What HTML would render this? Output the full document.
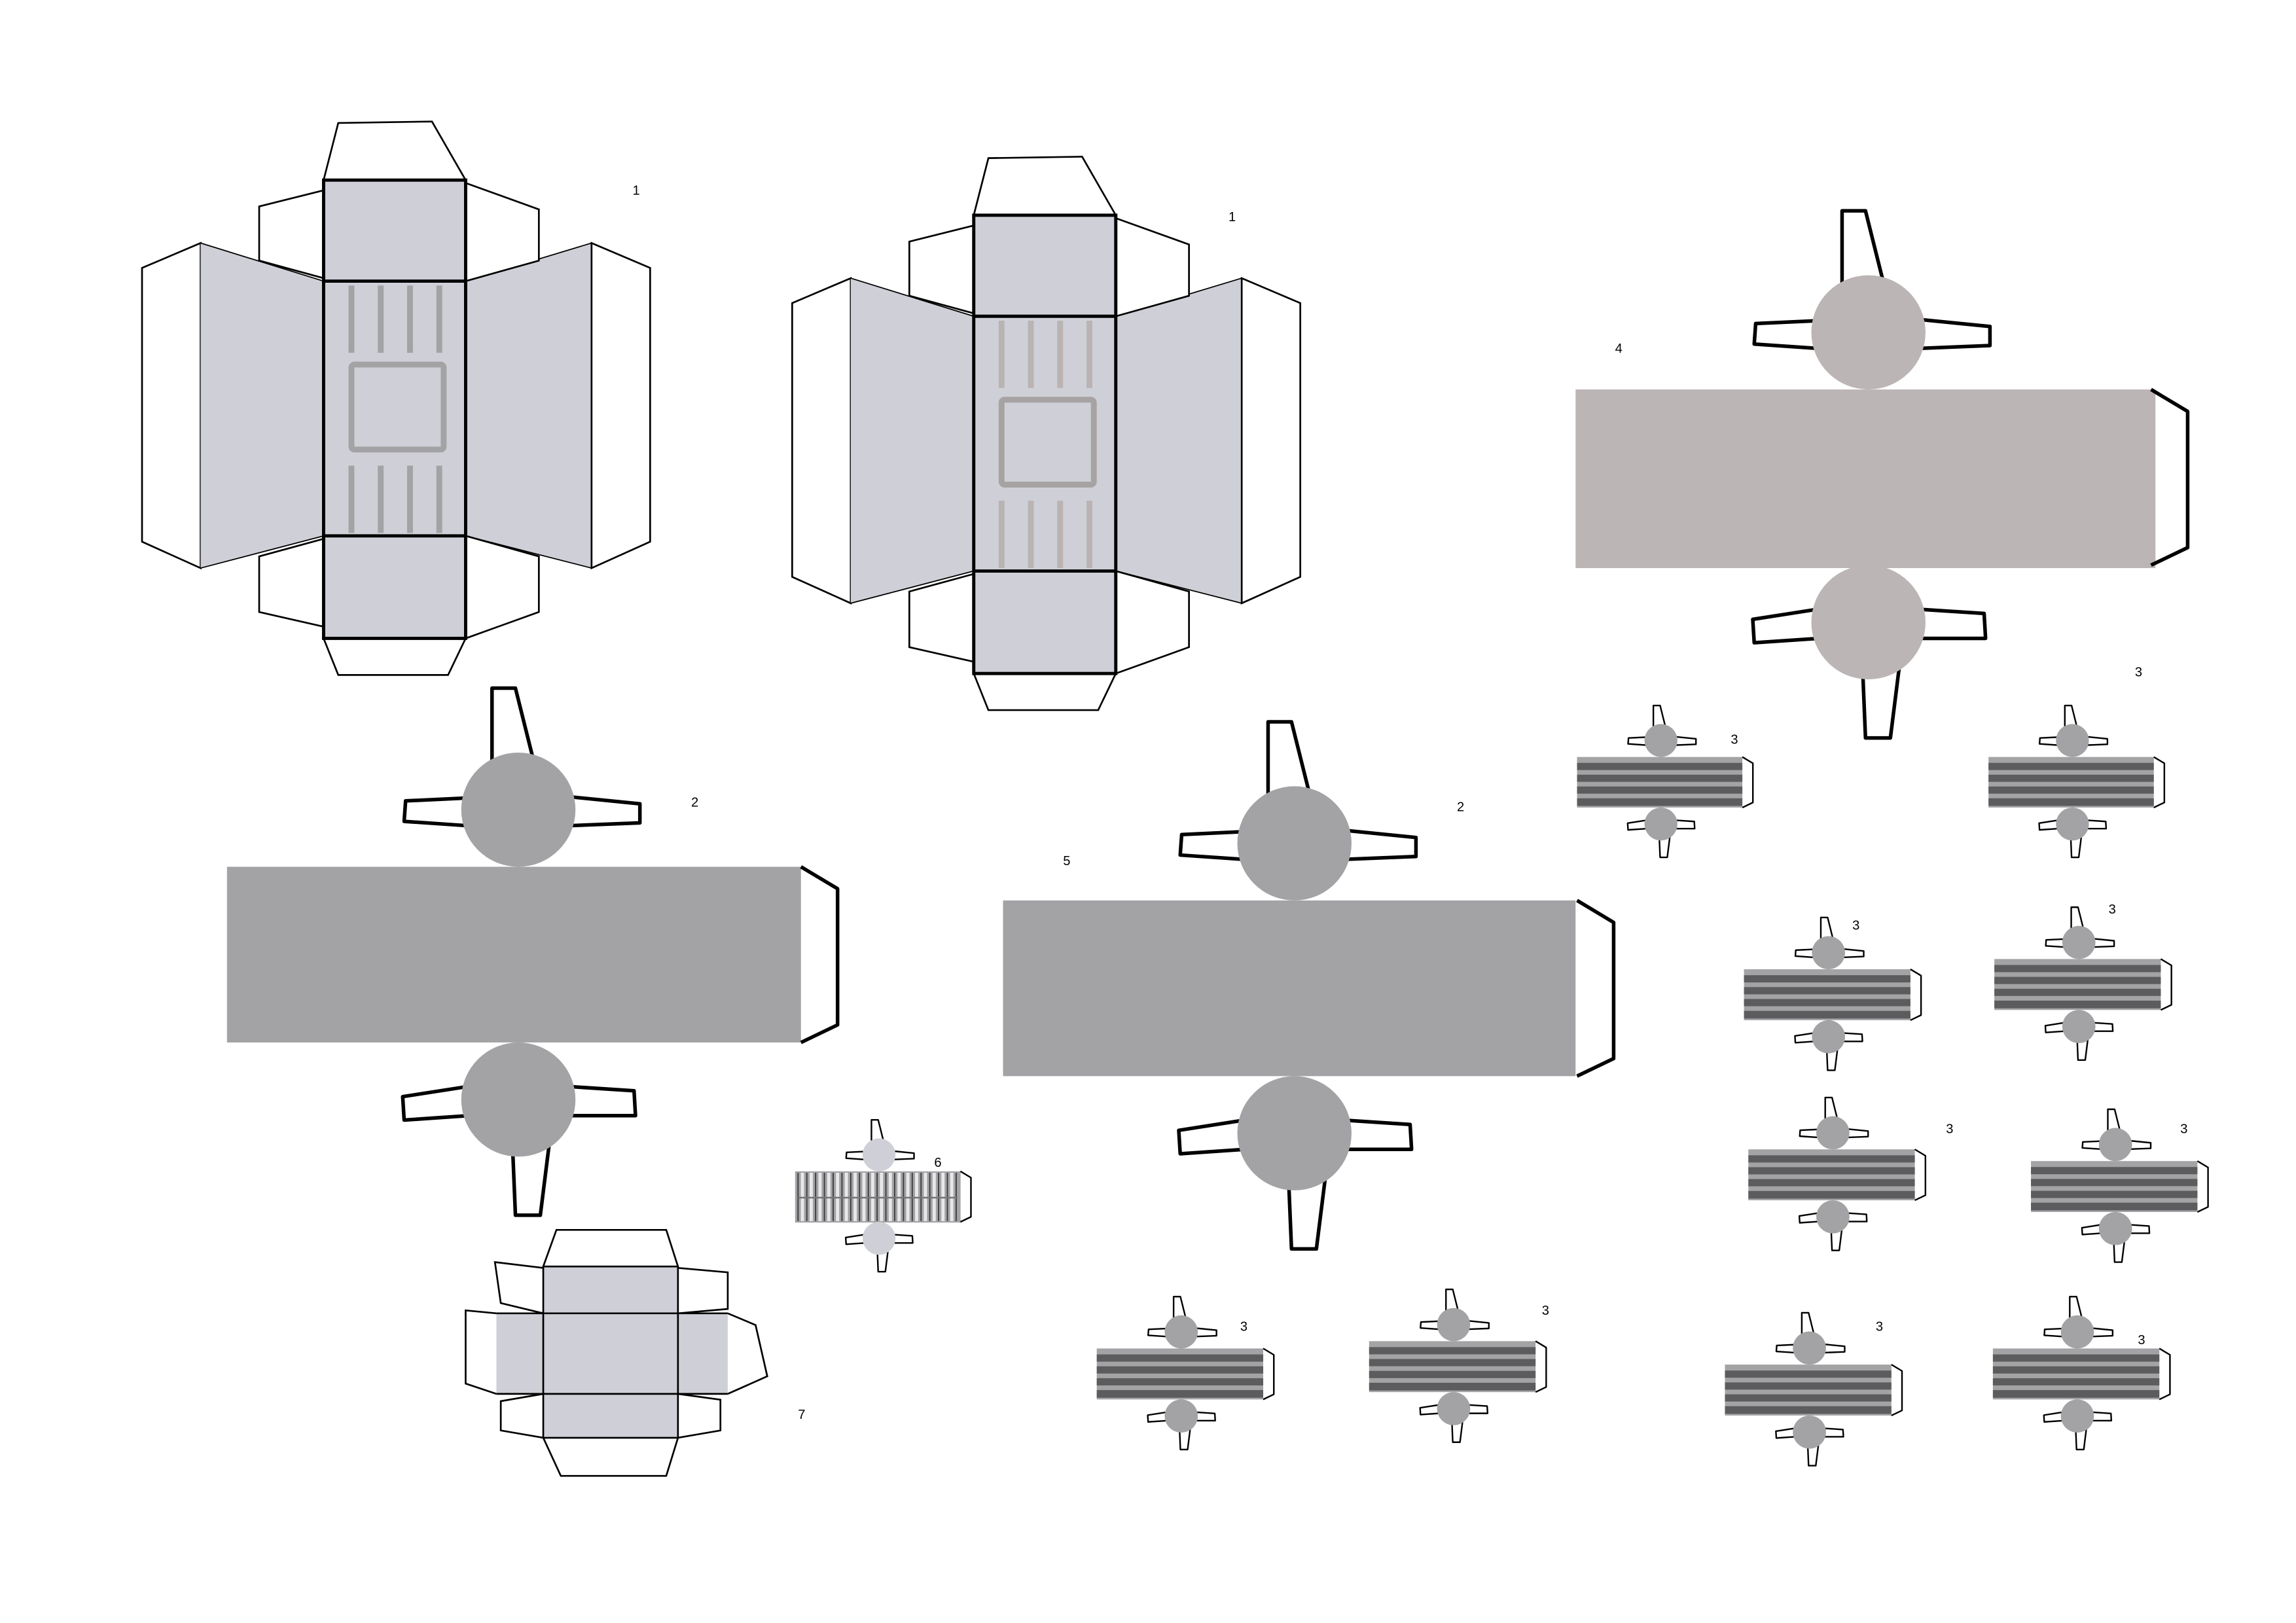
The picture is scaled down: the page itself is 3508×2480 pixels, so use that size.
<!DOCTYPE html>
<html><head><meta charset="utf-8"><style>
html,body{margin:0;padding:0;background:#fff;}
svg{display:block}
text{font-family:"Liberation Sans",sans-serif;font-size:9px;fill:#000}
</style></head><body>
<svg width="3508" height="2480" viewBox="0 0 1568 1108.5" preserveAspectRatio="none" xmlns="http://www.w3.org/2000/svg">
<defs>
<g id="chairs" stroke="#000" stroke-linejoin="round">
  <g fill="#fff">
    <polygon vector-effect="non-scaling-stroke" points="165,-47 122,-45 121,-31 165,-28"/>
    <polygon vector-effect="non-scaling-stroke" points="232,-48 282,-43 282,-30 232,-28"/>
    <polygon vector-effect="non-scaling-stroke" points="181,-70 181,-122 197,-122 210,-70"/>
    <polygon vector-effect="non-scaling-stroke" points="165,150 120,157 121,173 165,170"/>
    <polygon vector-effect="non-scaling-stroke" points="232,150 278,153 279,170 232,170"/>
    <polygon vector-effect="non-scaling-stroke" points="195,190 220,190 214,238 197,238"/>
  </g>
  <circle cx="199" cy="-39" r="39" fill="currentColor" stroke="none"/>
  <circle cx="199" cy="159" r="39" fill="currentColor" stroke="none"/>
  <polyline vector-effect="non-scaling-stroke" fill="none" points="392,0 417,15 417,108 392,120"/>
</g>
<g id="striped">
  <rect x="0" y="0" width="392" height="120" fill="#a3a3a6"/>
  <rect x="0" y="14" width="392" height="17" fill="#5c5c5e"/>
  <rect x="0" y="42" width="392" height="17" fill="#5c5c5e"/>
  <rect x="0" y="70" width="392" height="17" fill="#5c5c5e"/>
  <rect x="0" y="98" width="392" height="18" fill="#5c5c5e"/>
  <use href="#chairs" color="#a3a3a6"/>
</g>
<g id="net1">
  <polygon points="137,166 97,183 97,370 137,388" fill="#fff" stroke="#000" stroke-width="1.2"/>
  <polygon points="137,166 221,192 221,366 137,388" fill="#cfd0d7"/>
  <polygon points="404,166 318,192 318,366 404,388" fill="#cfd0d7"/>
  <polygon points="404,166 444,183 444,370 404,388" fill="#fff" stroke="#000" stroke-width="1.2"/>
  <line x1="137" y1="166" x2="221" y2="192" stroke="#000" stroke-width="0.8"/>
  <line x1="137" y1="388" x2="221" y2="366" stroke="#000" stroke-width="0.8"/>
  <line x1="404" y1="166" x2="318" y2="192" stroke="#000" stroke-width="0.8"/>
  <line x1="404" y1="388" x2="318" y2="366" stroke="#000" stroke-width="0.8"/>
  <polyline points="221,130 177,141 177,178 221,190" fill="#fff" stroke="#000" stroke-width="1.2"/>
  <polyline points="318,125 368,143 368,178 318,192" fill="#fff" stroke="#000" stroke-width="1.2"/>
  <polyline points="221,368 177,380 177,418 221,428" fill="#fff" stroke="#000" stroke-width="1.2"/>
  <polyline points="318,366 368,380 368,418 318,436" fill="#fff" stroke="#000" stroke-width="1.2"/>
  <polyline points="221,123 231,84 295,83 318,123" fill="#fff" stroke="#000" stroke-width="1.2"/>
  <polyline points="221,436 231,461 306,461 318,436" fill="#fff" stroke="#000" stroke-width="1.2"/>
  <rect x="221" y="123" width="97" height="313" fill="#cfd0d7" stroke="#000" stroke-width="2.2"/>
  <line x1="221" y1="192" x2="318" y2="192" stroke="#000" stroke-width="2.2"/>
  <line x1="221" y1="366" x2="318" y2="366" stroke="#000" stroke-width="2.2"/>
</g>
</defs>

<use href="#net1"/>
<g stroke="#a3a3a6" stroke-width="4" fill="none">
  <line x1="240" y1="195" x2="240" y2="241"/><line x1="260" y1="195" x2="260" y2="241"/>
  <line x1="280" y1="195" x2="280" y2="241"/><line x1="300" y1="195" x2="300" y2="241"/>
  <line x1="240" y1="318" x2="240" y2="364"/><line x1="260" y1="318" x2="260" y2="364"/>
  <line x1="280" y1="318" x2="280" y2="364"/><line x1="300" y1="318" x2="300" y2="364"/>
  <rect x="240" y="249" width="63" height="58" rx="2"/>
</g>

<g transform="translate(444,24)">
  <use href="#net1"/>
  <g stroke="#b9b3b3" stroke-width="4" fill="none">
    <line x1="240" y1="195" x2="240" y2="241"/><line x1="260" y1="195" x2="260" y2="241"/>
    <line x1="280" y1="195" x2="280" y2="241"/><line x1="300" y1="195" x2="300" y2="241"/>
    <line x1="240" y1="318" x2="240" y2="364"/><line x1="260" y1="318" x2="260" y2="364"/>
    <line x1="280" y1="318" x2="280" y2="364"/><line x1="300" y1="318" x2="300" y2="364"/>
    <rect x="240" y="249" width="63" height="58" rx="2" stroke="#a8a3a3"/>
  </g>
</g>

<rect x="155" y="592" width="392" height="120" fill="#a3a3a6"/>
<use href="#chairs" transform="translate(155,592)" color="#a3a3a6" stroke-width="5.5"/>
<rect x="685" y="615" width="391" height="120" fill="#a3a3a6"/>
<use href="#chairs" transform="translate(685,615)" color="#a3a3a6" stroke-width="5.5"/>
<rect x="1076" y="266" width="396" height="122" fill="#bcb5b5"/>
<use href="#chairs" transform="translate(1077,266)" color="#bcb5b5" stroke-width="5.5"/>

<g stroke-width="2.4">
<use href="#striped" transform="translate(1077,517) scale(0.288)"/>
<use href="#striped" transform="translate(1358,517) scale(0.288)"/>
<use href="#striped" transform="translate(1191,662) scale(0.29)"/>
<use href="#striped" transform="translate(1362,655) scale(0.29)"/>
<use href="#striped" transform="translate(1194,785) scale(0.29)"/>
<use href="#striped" transform="translate(1387,793) scale(0.29)"/>
<use href="#striped" transform="translate(749,921) scale(0.29)"/>
<use href="#striped" transform="translate(935,916) scale(0.29)"/>
<use href="#striped" transform="translate(1178,932) scale(0.29)"/>
<use href="#striped" transform="translate(1361,921) scale(0.29)"/>
</g>

<rect x="543" y="800" width="113" height="35" fill="#a3a3a6"/>
<g stroke="#e8e8ea" stroke-width="2.2">
  <line x1="548" y1="801" x2="548" y2="834"/><line x1="554" y1="801" x2="554" y2="834"/>
  <line x1="560" y1="801" x2="560" y2="834"/><line x1="566" y1="801" x2="566" y2="834"/>
  <line x1="572" y1="801" x2="572" y2="834"/><line x1="578" y1="801" x2="578" y2="834"/>
  <line x1="584" y1="801" x2="584" y2="834"/><line x1="590" y1="801" x2="590" y2="834"/>
  <line x1="596" y1="801" x2="596" y2="834"/><line x1="602" y1="801" x2="602" y2="834"/>
  <line x1="608" y1="801" x2="608" y2="834"/><line x1="614" y1="801" x2="614" y2="834"/>
  <line x1="620" y1="801" x2="620" y2="834"/><line x1="626" y1="801" x2="626" y2="834"/>
  <line x1="632" y1="801" x2="632" y2="834"/><line x1="638" y1="801" x2="638" y2="834"/>
  <line x1="644" y1="801" x2="644" y2="834"/><line x1="650" y1="801" x2="650" y2="834"/>
</g>
<g stroke="#3a3a3c" stroke-width="0.8">
  <line x1="545" y1="801" x2="545" y2="834"/><line x1="551" y1="801" x2="551" y2="834"/>
  <line x1="557" y1="801" x2="557" y2="834"/><line x1="563" y1="801" x2="563" y2="834"/>
  <line x1="569" y1="801" x2="569" y2="834"/><line x1="575" y1="801" x2="575" y2="834"/>
  <line x1="581" y1="801" x2="581" y2="834"/><line x1="587" y1="801" x2="587" y2="834"/>
  <line x1="593" y1="801" x2="593" y2="834"/><line x1="599" y1="801" x2="599" y2="834"/>
  <line x1="605" y1="801" x2="605" y2="834"/><line x1="611" y1="801" x2="611" y2="834"/>
  <line x1="617" y1="801" x2="617" y2="834"/><line x1="623" y1="801" x2="623" y2="834"/>
  <line x1="629" y1="801" x2="629" y2="834"/><line x1="635" y1="801" x2="635" y2="834"/>
  <line x1="641" y1="801" x2="641" y2="834"/><line x1="647" y1="801" x2="647" y2="834"/>
  <line x1="653" y1="801" x2="653" y2="834"/>
</g>
<line x1="545" y1="818" x2="654" y2="818" stroke="#777" stroke-width="1.2"/>
<use href="#chairs" transform="translate(543,800) scale(0.288)" color="#cfd0d7" stroke-width="2.4"/>

<g stroke="#000" stroke-width="1.2" fill="#fff">
  <polyline points="371,866 338,862 342,890 371,897"/>
  <polyline points="463,866 497,869 497,894 463,897"/>
  <polyline points="371,952 342,957 342,977 371,982"/>
  <polyline points="463,952 492,956 492,977 463,982"/>
  <polyline points="339,897 318,895 318,945 339,952"/>
  <polyline points="497,897 516,905 524,940 497,952"/>
  <polyline points="371,865 380,840 455,840 463,865"/>
  <polyline points="371,982 383,1008 455,1008 463,982"/>
</g>
<rect x="339" y="897" width="158" height="55" fill="#cfd0d7"/>
<rect x="371" y="865" width="92" height="117" fill="#cfd0d7" stroke="#000" stroke-width="1.2"/>
<g stroke="#000" stroke-width="1.2">
  <line x1="339" y1="897" x2="497" y2="897"/>
  <line x1="339" y1="952" x2="497" y2="952"/>
</g>

<text x="432" y="133">1</text>
<text x="839" y="151">1</text>
<text x="1103" y="241">4</text>
<text x="1458" y="462">3</text>
<text x="1182" y="508">3</text>
<text x="1265" y="635">3</text>
<text x="1440" y="624">3</text>
<text x="1329" y="774">3</text>
<text x="1489" y="774">3</text>
<text x="847" y="909">3</text>
<text x="1053" y="898">3</text>
<text x="1281" y="909">3</text>
<text x="1460" y="918">3</text>
<text x="472" y="551">2</text>
<text x="995" y="554">2</text>
<text x="726" y="591">5</text>
<text x="638" y="797">6</text>
<text x="545" y="969">7</text>
</svg>
</body></html>
